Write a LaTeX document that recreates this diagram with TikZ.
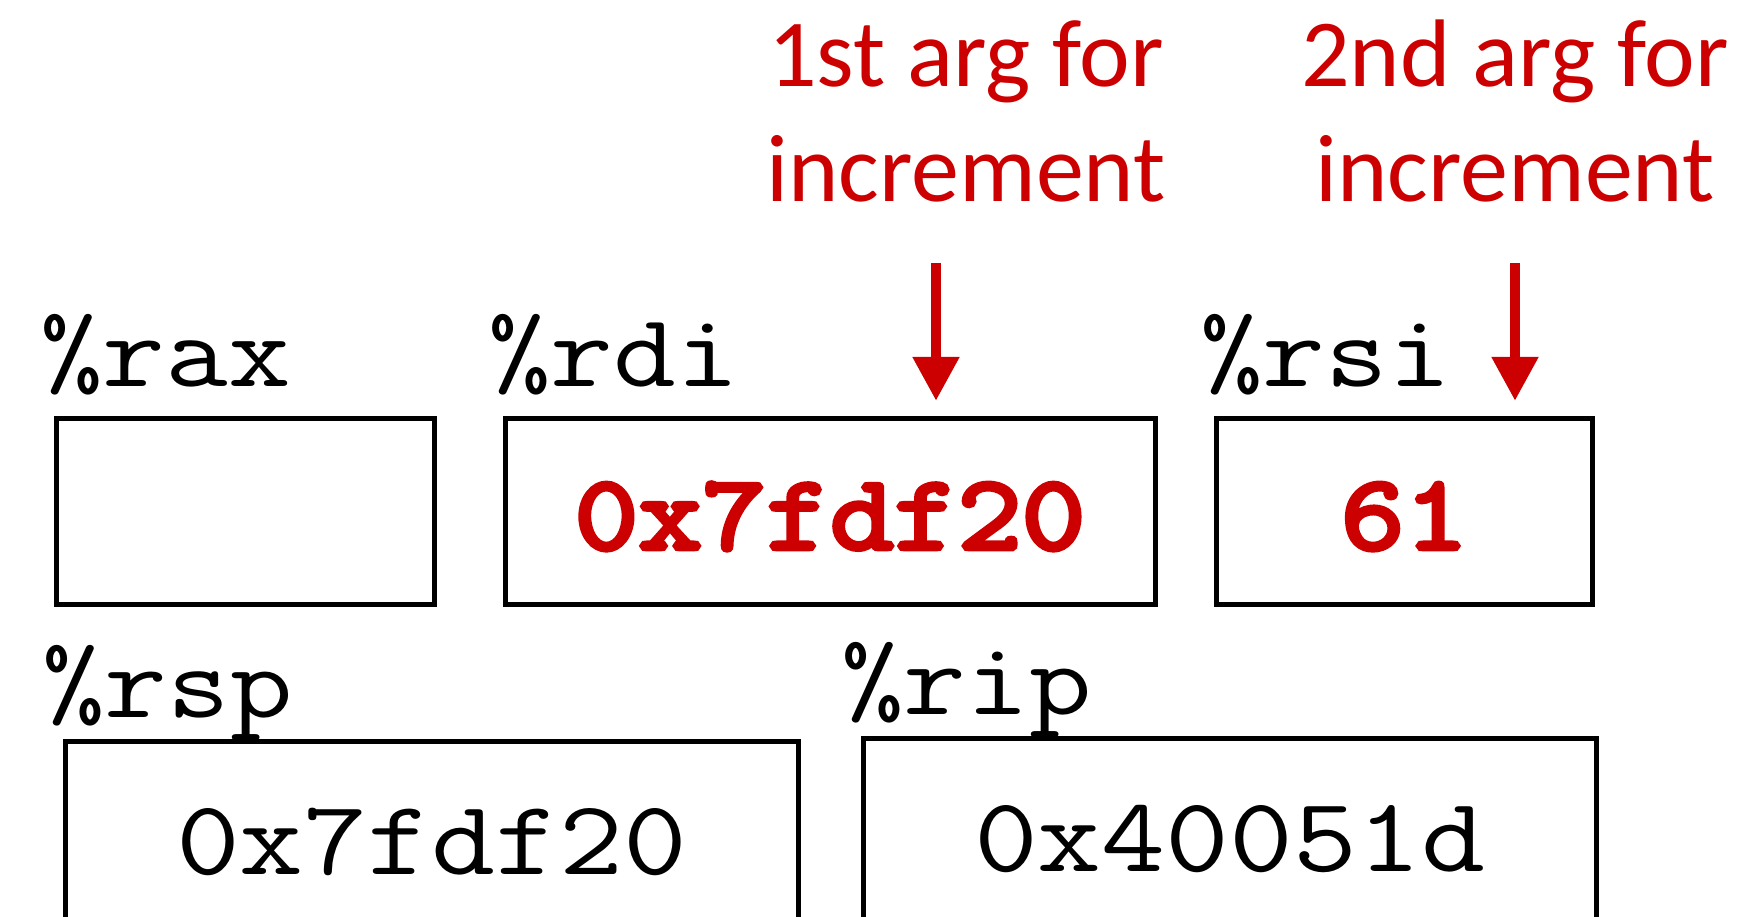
\documentclass[tikz,border=0pt]{standalone}
\usepackage{fontspec}
\setmainfont{Carlito}
\newfontfamily\regfont[FakeStretch=1.17]{Latin Modern Mono}
\newfontfamily\regboldfont[FakeStretch=1.17, FakeBold=4.5]{Latin Modern Mono}
\definecolor{argred}{rgb}{0.8, 0, 0}
\usetikzlibrary{arrows.meta}

\tikzset{
	regname/.style={anchor=base west, inner sep=0pt, font=\regfont\fontsize{104}{120}\selectfont},
	regbox/.style={draw, line width=5pt, minimum height=186pt, inner sep=0pt, text height=76pt, text depth=0pt, font=\regfont\fontsize{106}{120}\selectfont},
	regval/.style={text=argred, font=\regboldfont\fontsize{106}{120}\selectfont},
	argnote/.style={color=argred, align=center, anchor=base, inner sep=0pt, font=\fontsize{96}{115}\selectfont},
	argarrow/.style={draw=argred, line width=10.7pt, -{Triangle[length=44pt, width=44pt]}}
}

\begin{document}
\begin{tikzpicture}[x=1pt,y=1pt,yscale=-1,xscale=1]
	\useasboundingbox (0,0) rectangle (1757,917);
	\clip (0,0) rectangle (1757,917);
	
	%Shape: Rectangle [rax]
	\node [regbox, minimum width=378pt] (rax) at (245,511) {};
	%Shape: Rectangle [rdi]
	\node [regbox, regval, minimum width=650pt] (rdi) at (830,511) {0x7fdf20};
	%Shape: Rectangle [rsi]
	\node [regbox, regval, minimum width=376pt] (rsi) at (1404.5,511) {61};
	%Shape: Rectangle [rsp]
	\node [regbox, minimum width=733pt, minimum height=190pt] (rsp) at (431.5,836) {0x7fdf20};
	%Shape: Rectangle [rip]
	\node [regbox, minimum width=733pt, minimum height=190pt] (rip) at (1229.5,833) {0x40051d};
	
	% Text Node
	\node [regname] (raxname) at (40,387) {\%rax};
	% Text Node
	\node [regname] (rdiname) at (488,387) {\%rdi};
	% Text Node
	\node [regname] (rsiname) at (1200,387) {\%rsi};
	% Text Node
	\node [regname] (rspname) at (42,717) {\%rsp};
	% Text Node
	\node [regname] (ripname) at (841,714) {\%rip};
	
	% Text Node
	\node [argnote] (arg1) at (966,202) {1st arg for\\increment};
	% Text Node
	\node [argnote] (arg2) at (1515,202) {2nd arg for\\increment};
	
	%Straight Lines [arrows]
	\coordinate (arg1top) at (936,263);
	\coordinate (arg1tip) at (936,401);
	\coordinate (arg2top) at (1515,263);
	\coordinate (arg2tip) at (1515,401);
	\draw [argarrow] (arg1top) -- (arg1tip);
	\draw [argarrow] (arg2top) -- (arg2tip);
	
\end{tikzpicture}
\end{document}
